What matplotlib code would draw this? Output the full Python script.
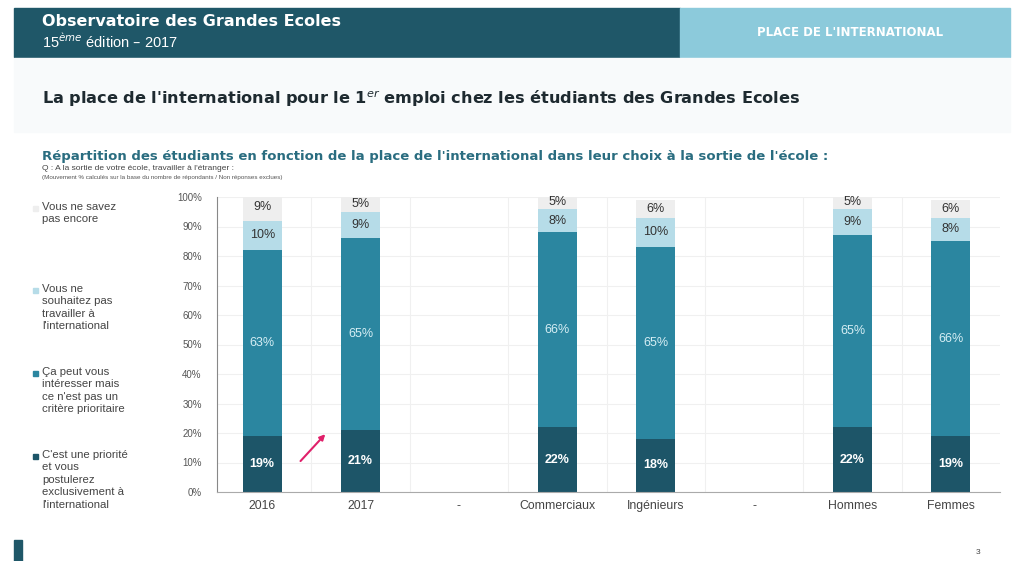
import matplotlib
matplotlib.use("Agg")
import matplotlib.pyplot as plt
from matplotlib.patches import Rectangle
import numpy as np

plt.rcParams['font.family'] = ['Liberation Sans', 'DejaVu Sans']

categories = ["2016", "2017", "-", "Commerciaux", "Ingénieurs", "-", "Hommes", "Femmes"]
priorite = [19, 21, None, 22, 18, None, 22, 19]
peut_interesser = [63, 65, None, 66, 65, None, 65, 66]
ne_souhaitez_pas = [10, 9, None, 8, 10, None, 9, 8]
ne_savez_pas = [9, 5, None, 5, 6, None, 5, 6]
yticks = [0, 10, 20, 30, 40, 50, 60, 70, 80, 90, 100]

series = [priorite, peut_interesser, ne_souhaitez_pas, ne_savez_pas]
legend_labels = [
    "C'est une priorité\net vous\npostulerez\nexclusivement à\nl'international",
    "Ça peut vous\nintéresser mais\nce n'est pas un\ncritère prioritaire",
    "Vous ne\nsouhaitez pas\ntravailler à\nl'international",
    "Vous ne savez\npas encore",
]
colors = ["#1d5568", "#2b86a0", "#b6dce8", "#eeeeee"]
label_colors = ["white", "#d6eef4", "#333333", "#333333"]
label_weights = ["bold", "normal", "normal", "normal"]

W, H = 1015, 561
fig = plt.figure(figsize=(W / 100, H / 100), dpi=100)
fig.patch.set_facecolor("white")

def fx(px):
    return px / W

def fy(py):
    return 1 - py / H

# header
fig.patches.append(Rectangle((fx(14), fy(57)), fx(666), 49 / H, transform=fig.transFigure,
                             color="#1f5768", zorder=0))
fig.patches.append(Rectangle((fx(680), fy(57)), fx(330), 49 / H, transform=fig.transFigure,
                             color="#8ccadb", zorder=0))
fig.text(fx(42), fy(22), "Observatoire des Grandes Ecoles", color="white", fontsize=11.5,
         fontweight="bold", va="center", ha="left", family="DejaVu Sans")
fig.text(fx(42), fy(41), "15$^{ème}$ édition – 2017", color="white", fontsize=10.5,
         va="center", ha="left")
fig.text(fx(850), fy(33), "PLACE DE L'INTERNATIONAL", color="white", fontsize=8.5,
         fontweight="bold", va="center", ha="center", family="DejaVu Sans")

# pale band
fig.patches.append(Rectangle((fx(14), fy(132)), fx(996), 74 / H, transform=fig.transFigure,
                             color="#f8fafb", zorder=0))
fig.text(fx(42), fy(99), "La place de l'international pour le 1$^{er}$ emploi chez les étudiants des Grandes Ecoles",
         color="#1e2a30", fontsize=11.6, fontweight="bold", va="center", ha="left",
         family="DejaVu Sans")

fig.text(fx(42), fy(157), "Répartition des étudiants en fonction de la place de l'international dans leur choix à la sortie de l'école :",
         color="#2a6d80", fontsize=9.5, fontweight="bold", va="center", ha="left",
         family="DejaVu Sans")
fig.text(fx(42), fy(169), "Q : A la sortie de votre école, travailler à l'étranger :",
         color="#444444", fontsize=6, va="center", ha="left")
fig.text(fx(42), fy(178), "(Mouvement % calculés sur la base du nombre de répondants / Non réponses exclues)",
         color="#555555", fontsize=4.5, va="center", ha="left")

# bottom-left marker and page number
fig.patches.append(Rectangle((fx(14), 0), fx(8), 21 / H, transform=fig.transFigure,
                             color="#1f5768", zorder=0))
fig.text(fx(978), fy(552), "3", color="#444444", fontsize=6, va="center", ha="center")

# chart axes
ax = fig.add_axes([fx(217), fy(492), fx(1000) - fx(217), (492 - 197) / H])
x = np.arange(len(categories))
bottoms = np.zeros(len(categories))
for i, vals in enumerate(series):
    v = np.array([0 if a is None else a for a in vals], dtype=float)
    ax.bar(x, v, width=0.4, bottom=bottoms, color=colors[i], zorder=2)
    for xi, (b, h, raw) in enumerate(zip(bottoms, v, vals)):
        if raw is None:
            continue
        ypos = b + h / 2
        ax.text(xi, min(ypos, 98.3), f"{raw}%", ha="center", va="center",
                color=label_colors[i], fontsize=9, fontweight=label_weights[i], zorder=3)
    bottoms += v

ax.set_xlim(-0.46, 7.5)
ax.set_ylim(0, 100)
ax.set_yticks(yticks)
ax.set_yticklabels([f"{t}%" for t in yticks], fontsize=7, color="#555555")
ax.set_xticks(x)
ax.set_xticklabels(categories, fontsize=8.8, color="#444444")
ax.set_xticks(x[:-1] + 0.5, minor=True)
ax.tick_params(axis="both", which="both", length=0, pad=6)
ax.tick_params(axis="y", pad=11)
for s in ["top", "right"]:
    ax.spines[s].set_visible(False)
ax.spines["left"].set_color("#888888")
ax.spines["bottom"].set_color("#aaaaaa")
ax.grid(True, axis="y", color="#f0f0f0", linewidth=0.8, zorder=0)
ax.grid(True, axis="x", which="minor", color="#f0f0f0", linewidth=0.8, zorder=0)
ax.set_axisbelow(True)

# arrow between 2016 and 2017
ax.annotate("", xy=(0.66, 20.3), xytext=(0.37, 9.8),
            arrowprops=dict(arrowstyle="-|>", color="#e0206a", lw=1.5, mutation_scale=8))

# legend on the left
legend_y = [456, 373, 290, 208]
for i in range(4):
    fig.patches.append(Rectangle((fx(33), fy(legend_y[i] + 3)), 5 / W, 5 / H,
                                 transform=fig.transFigure, color=colors[i], zorder=2))
    fig.text(fx(42), fy(legend_y[i] - 6), legend_labels[i], color="#444444", fontsize=8.2,
             va="top", ha="left", linespacing=1.3)

fig.savefig("out.png", dpi=100)
